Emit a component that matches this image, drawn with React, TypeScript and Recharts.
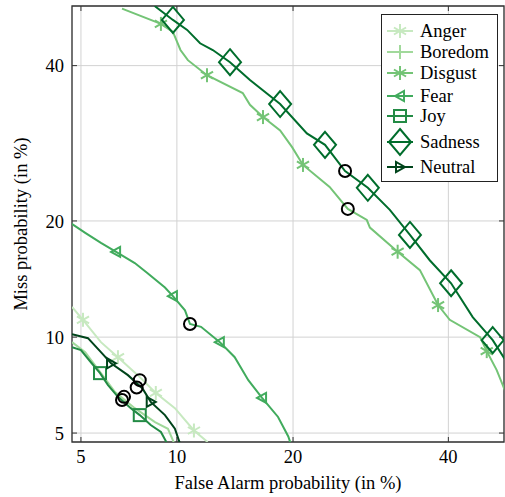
import React from "react";
import {
  ComposedChart,
  Line,
  Scatter,
  XAxis,
  YAxis,
  CartesianGrid,
  ReferenceArea,
  ReferenceLine,
} from "recharts";

// DET curves, [false alarm %, miss %]
const anger: [number, number][] = [
  [4.66, 12.15], [5.08, 11.2], [5.83, 9.67], [6.62, 8.73], [7.64, 7.7],
  [8.67, 6.77], [9.87, 6.05], [11.18, 5.1], [12.2, 4.66],
];
const boredom: [number, number][] = [
  [4.66, 9.67], [5.17, 9.04], [5.83, 7.81], [6.48, 6.82], [7.48, 6.05],
  [8.62, 5.44], [9.42, 5.17], [9.87, 4.55],
];
const disgust: [number, number][] = [
  [6.82, 48.5], [8.98, 46.2], [9.74, 45.0], [10.24, 42.3], [10.75, 40.8],
  [12.15, 38.6], [15.1, 36.05], [15.75, 34.4], [16.97, 32.7], [18.66, 30.9],
  [19.9, 28.7], [21.07, 26.45], [24.1, 23.8], [26.3, 21.3], [28.7, 20.1],
  [29.1, 19.3], [32.8, 16.9], [35.9, 15.2], [38.5, 12.3], [40.2, 11.2],
  [44.7, 10.0], [45.7, 9.1], [47.2, 7.98], [48.6, 6.77],
];
const fear: [number, number][] = [
  [4.6, 19.8], [5.17, 18.76], [5.83, 17.75], [6.53, 16.88], [7.48, 15.84],
  [8.19, 14.93], [9.23, 13.7], [9.74, 13.0], [10.55, 11.9], [10.9, 10.9],
  [11.7, 10.7], [13.16, 9.67], [14.4, 8.73], [15.6, 7.43], [16.88, 6.53],
  [18.45, 5.66], [19.5, 4.87], [19.8, 4.55],
];
const joy: [number, number][] = [
  [4.66, 9.35], [5.0, 9.17], [5.4, 8.43], [5.79, 7.81], [6.15, 7.17],
  [6.62, 6.58], [7.27, 6.05], [7.75, 5.74], [8.37, 5.32], [8.98, 5.04],
  [9.42, 4.55],
];
const sadness: [number, number][] = [
  [8.6, 48.9], [9.74, 46.8], [10.7, 45.3], [11.63, 43.3], [12.6, 42.3],
  [14.0, 40.5], [15.75, 37.9], [18.66, 34.5], [21.5, 30.5], [23.56, 29.0],
  [25.96, 25.7], [28.83, 23.7], [31.74, 21.2], [34.5, 18.55], [37.3, 16.1],
  [40.4, 14.06], [43.6, 11.4], [46.6, 9.8], [48.6, 8.5],
];
const neutral: [number, number][] = [
  [4.66, 10.2], [5.28, 9.93], [5.83, 9.04], [6.29, 8.37], [7.12, 7.7],
  [7.9, 7.0], [8.37, 6.34], [9.23, 5.74], [9.87, 5.17], [10.24, 4.55],
];

// which points carry a marker
const angerMarks = [1, 3, 5, 7];
const boredomMarks: number[] = [];
const disgustMarks = [1, 5, 8, 11, 16, 18, 21];
const fearMarks = [3, 7, 11, 14];
const joyMarks = [3, 7];
const sadnessMarks = [1, 5, 7, 9, 11, 13, 15, 17];
const neutralMarks = [3, 6];

// black operating points
const operatingPoints: [number, number][] = [
  [25.96, 25.7], [26.3, 21.3], [10.9, 10.9], [7.75, 7.43], [7.58, 7.05],
  [6.82, 6.43], [6.92, 6.58],
];

const tickPct = [5, 10, 20, 40];

// inverse normal cdf (Acklam)
function probit(p: number): number {
  const a = [-39.69683028665376, 220.9460984245205, -275.9285104469687, 138.357751867269, -30.66479806614716, 2.506628277459239];
  const b = [-54.47609879822406, 161.5858368580409, -155.6989798598866, 66.80131188771972, -13.28068155288572];
  const c = [-0.007784894002430293, -0.3223964580411365, -2.400758277161838, -2.549732539343734, 4.374664141464968, 2.938163982698783];
  const d = [0.007784695709041462, 0.3224671290700398, 2.445134137142996, 3.754408661907416];
  const pl = 0.02425;
  if (p < pl) {
    const q = Math.sqrt(-2 * Math.log(p));
    return (((((c[0] * q + c[1]) * q + c[2]) * q + c[3]) * q + c[4]) * q + c[5]) /
      ((((d[0] * q + d[1]) * q + d[2]) * q + d[3]) * q + 1);
  }
  if (p <= 1 - pl) {
    const q = p - 0.5;
    const r = q * q;
    return ((((((a[0] * r + a[1]) * r + a[2]) * r + a[3]) * r + a[4]) * r + a[5]) * q) /
      (((((b[0] * r + b[1]) * r + b[2]) * r + b[3]) * r + b[4]) * r + 1);
  }
  const q = Math.sqrt(-2 * Math.log(1 - p));
  return -(((((c[0] * q + c[1]) * q + c[2]) * q + c[3]) * q + c[4]) * q + c[5]) /
    ((((d[0] * q + d[1]) * q + d[2]) * q + d[3]) * q + 1);
}
const pz = (pct: number) => probit(pct / 100);

const FONT = "'Liberation Serif', 'Times New Roman', serif";
const W = 505;
const H = 497;
const PLOT_W = 432;
const PLOT_H = 436;

const xMin = pz(4.66);
const xMax = pz(48.3);
const yMin = pz(4.66);
const yMax = pz(48.9);
const tickZ = tickPct.map(pz);
const fmt = (v: number) => {
  const i = tickZ.findIndex((t) => Math.abs(t - v) < 1e-6);
  return i >= 0 ? String(tickPct[i]) : "";
};
const tx = ((xMax - xMin) / PLOT_W) * 5;
const ty = ((yMax - yMin) / PLOT_H) * 5;

type Kind = "asterisk" | "plus" | "triLeft" | "square" | "diamond" | "triRight";

function Marker({ kind, cx, cy, color }: { kind: Kind; cx: number; cy: number; color: string }) {
  const sw = 2;
  if (kind === "asterisk") {
    const r = 7;
    const s = r * Math.cos(Math.PI / 6);
    const h = r * 0.5;
    return (
      <g stroke={color} strokeWidth={sw}>
        <line x1={cx} y1={cy - r} x2={cx} y2={cy + r} />
        <line x1={cx - s} y1={cy - h} x2={cx + s} y2={cy + h} />
        <line x1={cx - s} y1={cy + h} x2={cx + s} y2={cy - h} />
      </g>
    );
  }
  if (kind === "plus") {
    const r = 7;
    return (
      <g stroke={color} strokeWidth={sw}>
        <line x1={cx} y1={cy - r} x2={cx} y2={cy + r} />
        <line x1={cx - r} y1={cy} x2={cx + r} y2={cy} />
      </g>
    );
  }
  if (kind === "square") {
    const r = 6;
    return <rect x={cx - r} y={cy - r} width={2 * r} height={2 * r} fill="none" stroke={color} strokeWidth={sw} />;
  }
  if (kind === "diamond") {
    const w = 11;
    const h = 13;
    return (
      <polygon
        points={`${cx},${cy - h} ${cx + w},${cy} ${cx},${cy + h} ${cx - w},${cy}`}
        fill="none"
        stroke={color}
        strokeWidth={sw}
      />
    );
  }
  const r = 5;
  const pts =
    kind === "triLeft"
      ? `${cx - r},${cy} ${cx + r * 0.8},${cy - r} ${cx + r * 0.8},${cy + r}`
      : `${cx + r},${cy} ${cx - r * 0.8},${cy - r} ${cx - r * 0.8},${cy + r}`;
  return <polygon points={pts} fill="none" stroke={color} strokeWidth={sw} strokeLinejoin="miter" />;
}

const series = [
  { name: "Anger", color: "#c7e9c0", points: anger, marks: angerMarks, kind: "asterisk" as Kind },
  { name: "Boredom", color: "#a1d99b", points: boredom, marks: boredomMarks, kind: "plus" as Kind },
  { name: "Disgust", color: "#74c476", points: disgust, marks: disgustMarks, kind: "asterisk" as Kind },
  { name: "Fear", color: "#41ab5d", points: fear, marks: fearMarks, kind: "triLeft" as Kind },
  { name: "Joy", color: "#238b45", points: joy, marks: joyMarks, kind: "square" as Kind },
  { name: "Sadness", color: "#006d2c", points: sadness, marks: sadnessMarks, kind: "diamond" as Kind },
  { name: "Neutral", color: "#00441b", points: neutral, marks: neutralMarks, kind: "triRight" as Kind },
];

const toData = (pts: [number, number][]) => pts.map(([fa, miss]) => ({ x: pz(fa), y: pz(miss) }));

const legendRows = [17, 38, 59, 82, 102, 128, 153];

function LegendBox() {
  return (
    <svg
      width={118}
      height={169}
      style={{ position: "absolute", left: 381, top: 14 }}
    >
      <rect x={0.5} y={0.5} width={116} height={167} fill="#fff" stroke="#222" strokeWidth={1} />
      {series.map((s, i) => (
        <g key={s.name}>
          <line x1={6} x2={32} y1={legendRows[i]} y2={legendRows[i]} stroke={s.color} strokeWidth={2} />
          <Marker kind={s.kind} cx={19} cy={legendRows[i]} color={s.color} />
          <text x={39} y={legendRows[i] + 6} fontFamily={FONT} fontSize={18.5} fill="#000">
            {s.name}
          </text>
        </g>
      ))}
    </svg>
  );
}

export default function App() {
  const tickStyle = { fill: "#000", fontSize: 18.5, fontFamily: FONT };
  return (
    <div style={{ position: "absolute", left: 0, top: 0, width: W, height: H, background: "#fff" }}>
      <ComposedChart width={W} height={H} margin={{ top: 6, right: 1, bottom: 0, left: 0 }}>
        <CartesianGrid stroke="#d2d2d2" strokeWidth={1} />
        <XAxis
          type="number"
          dataKey="x"
          domain={[xMin, xMax]}
          allowDataOverflow
          ticks={tickZ}
          tickFormatter={fmt}
          height={55}
          axisLine={false}
          tickLine={false}
          tick={tickStyle}
          label={{
            value: "False Alarm probability (in %)",
            position: "insideBottom",
            offset: 8,
            style: { fill: "#000", fontSize: 18.5, fontFamily: FONT },
          }}
        />
        <YAxis
          type="number"
          dataKey="y"
          domain={[yMin, yMax]}
          allowDataOverflow
          ticks={tickZ}
          tickFormatter={fmt}
          width={72}
          axisLine={false}
          tickLine={false}
          tick={tickStyle}
          label={{
            value: "Miss probability (in %)",
            angle: -90,
            position: "insideLeft",
            offset: 20,
            style: { fill: "#000", fontSize: 18.5, fontFamily: FONT, textAnchor: "middle" },
          }}
        />
        {series.map((s) => (
          <Line
            key={s.name}
            data={toData(s.points)}
            dataKey="y"
            type="linear"
            stroke={s.color}
            strokeWidth={2}
            isAnimationActive={false}
            activeDot={false}
            dot={(p: any) =>
              s.marks.includes(p.index) ? (
                <Marker key={`${s.name}-${p.index}`} kind={s.kind} cx={p.cx} cy={p.cy} color={s.color} />
              ) : (
                <g key={`${s.name}-${p.index}`} />
              )
            }
          />
        ))}
        <Scatter
          data={toData(operatingPoints)}
          dataKey="y"
          isAnimationActive={false}
          shape={(p: any) => <circle cx={p.cx} cy={p.cy} r={6} fill="none" stroke="#000" strokeWidth={2} />}
        />
        <ReferenceArea x1={xMin} x2={xMax} y1={yMin} y2={yMax} fill="none" stroke="#333" strokeWidth={1.3} />
        {tickZ.map((t) => (
          <React.Fragment key={t}>
            <ReferenceLine segment={[{ x: t, y: yMin }, { x: t, y: yMin + ty }]} stroke="#333" />
            <ReferenceLine segment={[{ x: t, y: yMax }, { x: t, y: yMax - ty }]} stroke="#333" />
            <ReferenceLine segment={[{ x: xMin, y: t }, { x: xMin + tx, y: t }]} stroke="#333" />
            <ReferenceLine segment={[{ x: xMax, y: t }, { x: xMax - tx, y: t }]} stroke="#333" />
          </React.Fragment>
        ))}
      </ComposedChart>
      <LegendBox />
    </div>
  );
}
